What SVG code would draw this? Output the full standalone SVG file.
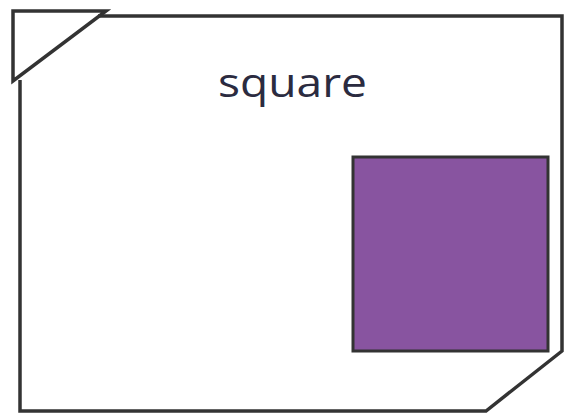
<svg xmlns="http://www.w3.org/2000/svg" width="565" height="415" viewBox="0 0 565 415">
<style>
.ln{fill:none;stroke:#333333;stroke-width:3.5;stroke-linejoin:miter}
.sq{fill:#8854a0;stroke:#333333;stroke-width:3}
.lbl{font-family:"Open Sans","DejaVu Sans",sans-serif;font-size:41px;fill:#2b2b40;font-weight:500}
</style>
<rect width="565" height="415" fill="#ffffff"/>
<g id="card">
<path class="ln" d="M98,16 L562,16 L562,351 L486,411 L20,411 L20,80"/>
</g>
<g id="corner">
<path class="ln" d="M13,81 L13,11 L106,11 Z"/>
</g>
<g id="label">
<text class="lbl" x="218" y="97" textLength="149" lengthAdjust="spacingAndGlyphs">square</text>
</g>
<g id="square">
<rect class="sq" x="353" y="157" width="195" height="194"/>
</g>
</svg>
